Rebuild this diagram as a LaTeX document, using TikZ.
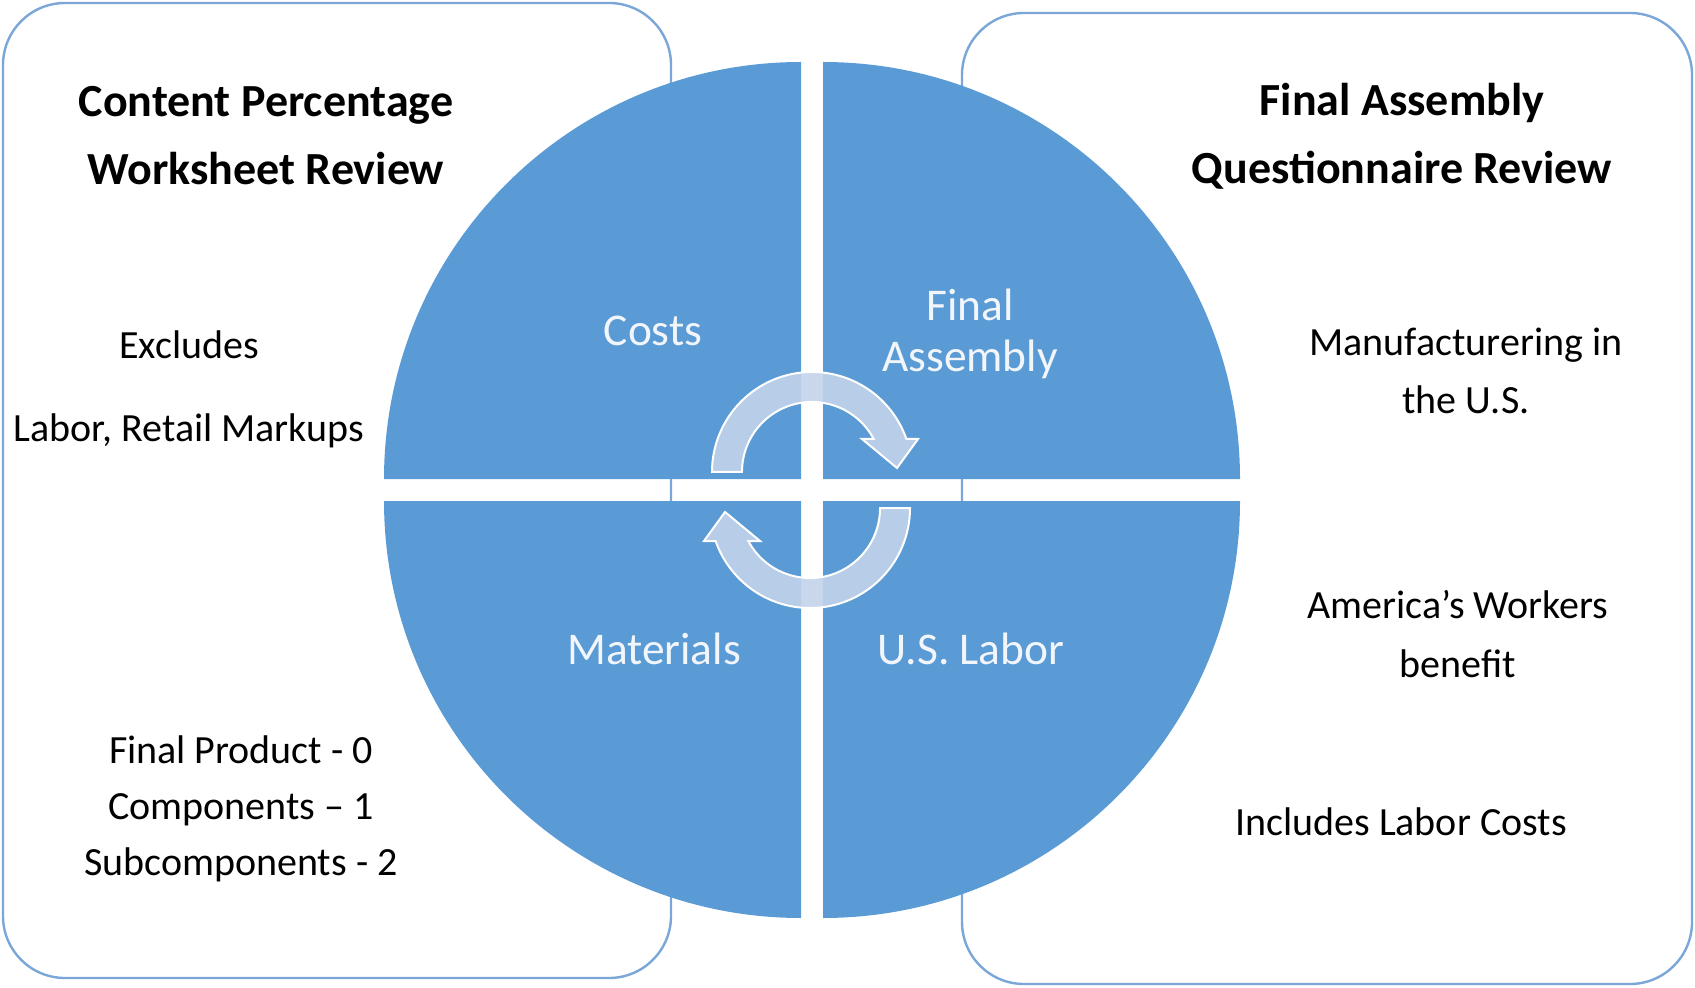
\documentclass[tikz,border=0pt]{standalone}
\usepackage{fontspec}
\setmainfont{Carlito}
\definecolor{quadblue}{HTML}{5B9BD5}
\definecolor{boxline}{HTML}{7AA7D8}
\definecolor{arrowfill}{HTML}{C3D3EA}
\definecolor{quadtext}{HTML}{F2F6FB}
\tikzset{
  sidebox/.style={draw=boxline, line width=1.2pt, rounded corners=31pt},
  quad/.style={fill=quadblue},
  cyclearrow/.style={fill=arrowfill, fill opacity=0.9, draw=white, line width=1pt, line join=miter},
  title/.style={font=\bfseries\fontsize{23pt}{34pt}\selectfont, align=center, text=black},
  body/.style={font=\fontsize{20pt}{28pt}\selectfont, align=center, text=black},
  qlabel/.style={font=\fontsize{22.7pt}{25.5pt}\selectfont, align=center, text=quadtext}
}
\begin{document}
\begin{tikzpicture}[x=0.5pt,y=0.5pt]
\useasboundingbox (0,0) rectangle (1695,-988);
% side boxes
\draw[sidebox] (3,-3) rectangle (671,-978);
\draw[sidebox] (962,-13) rectangle (1692,-984);
% quadrants
\fill[quad] (801,-479) -- (801,-62) arc[start angle=90,end angle=180,radius=208.5pt] -- cycle;
\fill[quad] (823,-479) -- (1240,-479) arc[start angle=0,end angle=90,radius=208.5pt] -- cycle;
\fill[quad] (801,-501) -- (384,-501) arc[start angle=180,end angle=270,radius=208.5pt] -- cycle;
\fill[quad] (823,-501) -- (823,-918) arc[start angle=270,end angle=360,radius=208.5pt] -- cycle;
% circular arrows
\draw[cyclearrow] (712,-472) arc[start angle=180,end angle=19.3,radius=50pt]
  -- (918,-439) -- (897,-468) -- (862,-439) -- (873.7,-439)
  arc[start angle=28.1,end angle=180,radius=35pt] -- cycle;
\draw[cyclearrow] (910,-508) arc[start angle=0,end angle=-160.7,radius=50pt]
  -- (704,-541) -- (725,-512) -- (760,-541) -- (748.3,-541)
  arc[start angle=-151.9,end angle=0,radius=35pt] -- cycle;
% quadrant labels
\node[qlabel] (costs) at (653,-331) {Costs};
\node[qlabel] (final) at (970,-334) {Final\\Assembly};
\node[qlabel] (materials) at (654,-649) {Materials};
\node[qlabel] (uslabor) at (971,-649) {U.S. Labor};
% left texts
\node[title] (ltitle) at (266,-136) {Content Percentage\\Worksheet Review};
\node[body] (excl) at (189,-345) {Excludes};
\node[body] (labor) at (189,-431) {Labor, Retail Markups};
\node[body] (levels) at (241,-809) {Final Product - 0\\Components – 1\\Subcomponents - 2};
% right texts
\node[title] (rtitle) at (1402,-136) {Final Assembly\\Questionnaire Review};
\node[body, font=\fontsize{20pt}{29pt}\selectfont] (manuf) at (1466,-371) {Manufacturering in\\the U.S.};
\node[body, font=\fontsize{20pt}{29.5pt}\selectfont] (workers) at (1458,-634.5) {America’s Workers\\benefit};
\node[body] (incl) at (1401,-822) {Includes Labor Costs};
\end{tikzpicture}
\end{document}
